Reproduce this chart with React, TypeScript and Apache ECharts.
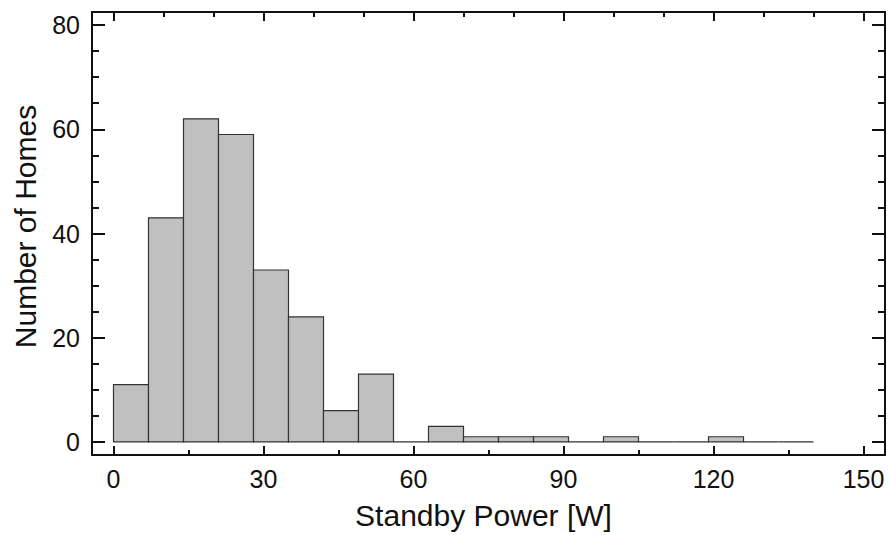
import React, { useEffect, useRef } from "react";
import * as echarts from "echarts";

// Histogram of standby power (bins of 7 W)
const binStarts = [0, 7, 14, 21, 28, 35, 42, 49, 56, 63, 70, 77, 84, 91, 98, 105, 112, 119, 126, 133];
const binWidth = 7;
const homeCounts = [11, 43, 62, 59, 33, 24, 6, 13, 0, 3, 1, 1, 1, 0, 1, 0, 0, 1, 0, 0];

const xTitle = "Standby Power [W]";
const yTitle = "Number of Homes";

const FONT = "'Liberation Sans', Arial, Helvetica, sans-serif";
const INK = "#111";

export default function App() {
  const ref = useRef<HTMLDivElement>(null);

  useEffect(() => {
    if (!ref.current) return;
    const chart = echarts.init(ref.current, undefined, { renderer: "svg" });
    const data = binStarts.map((s, i) => [s, s + binWidth, homeCounts[i]]);

    const axisLine = { show: true, onZero: false, lineStyle: { color: INK, width: 2 } };

    chart.setOption({
      animation: false,
      backgroundColor: "#fff",
      grid: { left: 92, right: 3, top: 12, bottom: 78, containLabel: false },
      xAxis: [
        {
          type: "value",
          position: "bottom",
          min: -4.3,
          max: 154.3,
          minInterval: 30,
          maxInterval: 30,
          axisLine,
          axisTick: { show: true, inside: true, length: 9, lineStyle: { color: INK, width: 2 } },
          minorTick: { show: true, splitNumber: 2, length: 5, lineStyle: { color: INK, width: 2 } },
          splitLine: { show: false },
          axisLabel: {
            show: true,
            showMinLabel: false,
            showMaxLabel: false,
            margin: 11,
            fontSize: 25,
            fontFamily: FONT,
            color: INK,
            formatter: (v: number) => (Math.abs(v % 30) < 1e-6 ? String(v) : ""),
          },
          name: xTitle,
          nameLocation: "middle",
          nameGap: 45,
          nameTextStyle: { fontSize: 30, fontFamily: FONT, color: INK, padding: [0, 10, 0, 0] },
        },
        {
          type: "value",
          position: "top",
          min: -4.3,
          max: 154.3,
          minInterval: 30,
          maxInterval: 30,
          axisLine,
          axisTick: { show: true, inside: true, length: 9, lineStyle: { color: INK, width: 2 } },
          minorTick: { show: true, splitNumber: 3, length: 5, lineStyle: { color: INK, width: 2 } },
          splitLine: { show: false },
          axisLabel: { show: false },
        },
      ],
      yAxis: [
        {
          type: "value",
          position: "left",
          min: -2.5,
          max: 82.5,
          minInterval: 20,
          maxInterval: 20,
          axisLine,
          axisTick: { show: true, inside: true, length: 13, lineStyle: { color: INK, width: 2 } },
          minorTick: { show: true, splitNumber: 4, length: 7, lineStyle: { color: INK, width: 2 } },
          splitLine: { show: false },
          axisLabel: {
            show: true,
            showMinLabel: false,
            showMaxLabel: false,
            margin: 12,
            fontSize: 25,
            fontFamily: FONT,
            color: INK,
            formatter: (v: number) => (Math.abs(v % 20) < 1e-6 ? String(v) : ""),
          },
          name: yTitle,
          nameLocation: "middle",
          nameGap: 52,
          nameRotate: 90,
          nameTextStyle: { fontSize: 30, fontFamily: FONT, color: INK, padding: [0, 0, 0, 14] },
        },
        {
          type: "value",
          position: "right",
          min: -2.5,
          max: 82.5,
          minInterval: 20,
          maxInterval: 20,
          axisLine,
          axisTick: { show: true, inside: true, length: 13, lineStyle: { color: INK, width: 2 } },
          minorTick: { show: true, splitNumber: 4, length: 7, lineStyle: { color: INK, width: 2 } },
          splitLine: { show: false },
          axisLabel: { show: false },
        },
      ],
      series: [
        {
          type: "custom",
          xAxisIndex: 0,
          yAxisIndex: 0,
          encode: { x: [0, 1], y: 2 },
          data,
          renderItem: (_params: any, api: any) => {
            const x0 = api.value(0);
            const x1 = api.value(1);
            const c = api.value(2);
            const p0 = api.coord([x0, 0]);
            const p1 = api.coord([x1, c]);
            if (c === 0) {
              return {
                type: "line",
                shape: { x1: p0[0], y1: p0[1], x2: p1[0], y2: p0[1] },
                style: { stroke: "#333", lineWidth: 1.2 },
              };
            }
            return {
              type: "rect",
              shape: { x: p0[0], y: p1[1], width: p1[0] - p0[0], height: p0[1] - p1[1] },
              style: { fill: "#c0c0c0", stroke: "#333", lineWidth: 1.2 },
            };
          },
        },
      ],
    });

    return () => chart.dispose();
  }, []);

  return (
    <div
      ref={ref}
      style={{ position: "fixed", left: 0, top: 0, width: 888, height: 535, background: "#fff" }}
    />
  );
}
